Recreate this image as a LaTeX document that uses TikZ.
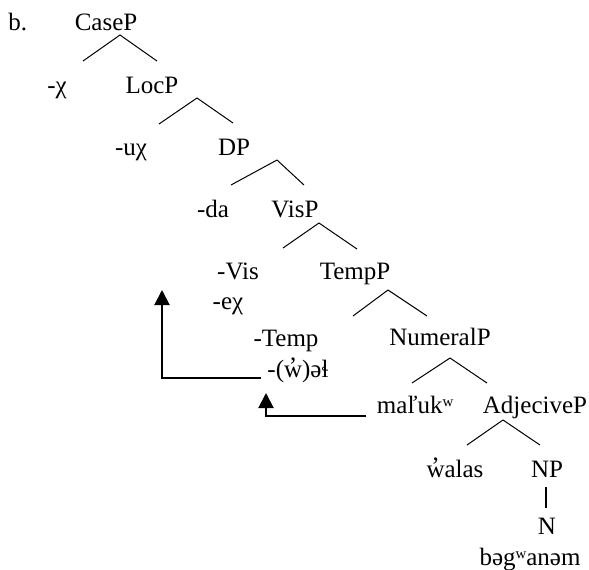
\documentclass[tikz,border=0pt]{standalone}
\usepackage{fontspec}
\setmainfont{Liberation Serif}
\usetikzlibrary{arrows.meta}
\newcommand{\glot}[1]{\ooalign{#1\cr\hidewidth\raisebox{0.2ex}{’}\hidewidth\cr}}
\tikzstyle{cat} = [anchor=base, inner sep=0pt, font=\fontsize{12.5}{15}\selectfont]
\tikzstyle{branch} = [line width=0.5pt]
\tikzstyle{move} = [line width=1pt, ->]
\tikzstyle{target} = [coordinate]

\begin{document}
\begin{tikzpicture}[x=0.5pt, y=-0.5pt, >={Triangle[length=7.5pt,width=7.5pt]}]
  \useasboundingbox (0,0) rectangle (589,569);

  \node [cat, anchor=base west] (label) at (8,30) {b.};
  \node [cat] (CaseP) at (106,30) {CaseP};
  \node [cat] (case) at (57,93) {-χ};
  \node [cat] (LocP) at (152,93) {LocP};
  \node [cat] (loc) at (131,155) {-uχ};
  \node [cat] (DP) at (234,155) {DP};
  \node [cat] (det) at (213,217) {-da};
  \node [cat] (VisP) at (295,217) {VisP};
  \node [cat] (vis) at (238,279) {-Vis};
  \node [cat] (TempP) at (355,279) {TempP};
  \node [cat] (vis-suf) at (228,309) {-eχ};
  \node [cat] (temp) at (286,346) {-Temp};
  \node [cat] (NumeralP) at (440,345) {NumeralP};
  \node [cat] (temp-suf) at (298,377) {-(\glot{w})əɬ};
  \node [cat] (numeral) at (415,413) {maľukʷ};
  \node [cat] (AdjP) at (535,413) {AdjeciveP};
  \node [cat] (adj) at (455,477) {\glot{w}alas};
  \node [cat] (NP) at (547,477) {NP};
  \node [cat] (N) at (547,534) {N};
  \node [cat] (noun) at (530,565) {bəgʷanəm};

  \node [target] (vis-target) at (162,290) {};
  \node [target] (temp-target) at (266,393) {};

  % branches
  \draw [branch] ([shift={(14,5)}]CaseP.base) -- ([shift={(26,-32)}]case.base);
  \draw [branch] ([shift={(14,5)}]CaseP.base) -- ([shift={(5,-32)}]LocP.base);
  \draw [branch] ([shift={(45,5)}]LocP.base) -- ([shift={(28,-31)}]loc.base);
  \draw [branch] ([shift={(45,5)}]LocP.base) -- ([shift={(-1,-32)}]DP.base);
  \draw [branch] ([shift={(43,5)}]DP.base) -- ([shift={(18,-32)}]det.base);
  \draw [branch] ([shift={(43,5)}]DP.base) -- ([shift={(9,-32)}]VisP.base);
  \draw [branch] ([shift={(24,6)}]VisP.base) -- ([shift={(45,-31)}]vis.base);
  \draw [branch] ([shift={(24,6)}]VisP.base) -- ([shift={(2,-30)}]TempP.base);
  \draw [branch] ([shift={(33,11)}]TempP.base) -- ([shift={(67,-30)}]temp.base);
  \draw [branch] ([shift={(33,11)}]TempP.base) -- ([shift={(-13,-29)}]NumeralP.base);
  \draw [branch] ([shift={(10,13)}]NumeralP.base) -- ([shift={(-3,-30)}]numeral.base);
  \draw [branch] ([shift={(10,13)}]NumeralP.base) -- ([shift={(-48,-30)}]AdjP.base);
  \draw [branch] ([shift={(-32,7)}]AdjP.base) -- ([shift={(12,-32)}]adj.base);
  \draw [branch] ([shift={(-32,7)}]AdjP.base) -- ([shift={(-7,-32)}]NP.base);
  \draw [line width=1pt] ([shift={(-1,10)}]NP.base) -- ([shift={(-1,-26)}]N.base);

  % movement
  \draw [move] ([shift={(-6,1)}]temp-suf.base west) -| (vis-target);
  \draw [move] ([shift={(-10,3)}]numeral.base west) -| (temp-target);
\end{tikzpicture}
\end{document}
